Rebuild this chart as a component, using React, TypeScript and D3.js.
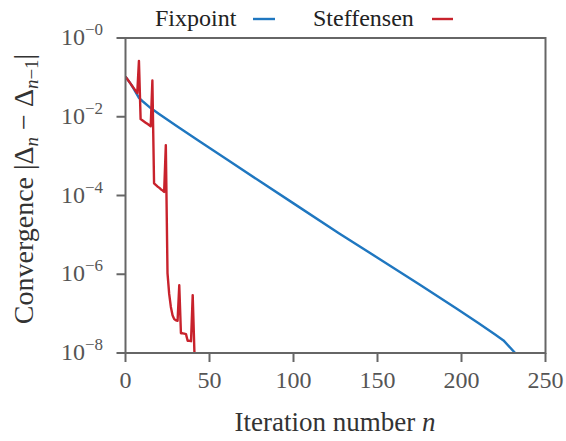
import React from "react";
import * as d3 from "d3";

const xTickValues = [0, 50, 100, 150, 200, 250];
const yTickExponents = [0, -2, -4, -6, -8];

const fixpointIterations = [0, 3, 5, 8, 10, 15, 20, 30, 44, 60, 80, 100, 127, 150, 175, 197, 210, 220, 225, 233];
const fixpointLog10 = [-0.98, -1.16, -1.3, -1.52, -1.6, -1.78, -1.93, -2.22, -2.62, -3.07, -3.64, -4.2, -4.96, -5.58, -6.26, -6.87, -7.24, -7.53, -7.68, -8.05];

const steffensenLog10 = [
  -0.98, -1.04, -1.1, -1.16, -1.22, -1.28, -1.34, -1.4, -0.58, -2.06,
  -2.09, -2.12, -2.15, -2.18, -2.21, -2.24, -1.08, -3.69, -3.73, -3.77,
  -3.8, -3.84, -3.87, -3.91, -2.72, -5.97, -6.5, -6.83, -7.04, -7.14,
  -7.17, -7.18, -6.28, -7.5, -7.5, -7.51, -7.52, -7.69, -7.69, -7.7,
  -6.53, -7.95, -8.4,
];

const BLUE = "#1f77c0";
const RED = "#c8222c";
const FRAME = "#666666";
const FONT = "Liberation Serif";

export default function App() {
  const W = 566, H = 441;
  const L = 125.5, R = 545.5, T = 38, B = 353;
  const x = d3.scaleLinear().domain([0, 250]).range([L, R]);
  const y = d3.scaleLog().domain([1e-8, 1]).range([B, T]);

  const fixData = fixpointIterations.map((it, i) => [it, Math.pow(10, fixpointLog10[i])] as [number, number]);
  const stData = steffensenLog10.map((v, i) => [i, Math.pow(10, v)] as [number, number]);
  const line = d3.line<[number, number]>().x(d => x(d[0])).y(d => y(d[1]));

  return (
    <svg width={W} height={H} style={{ position: "absolute", left: 0, top: 0, background: "#fff" }}>
      <defs>
        <clipPath id="plotclip">
          <rect x={L} y={T} width={R - L} height={B - T} />
        </clipPath>
      </defs>
      <g clipPath="url(#plotclip)" fill="none" strokeLinejoin="round">
        <path d={line(fixData) || ""} stroke={BLUE} strokeWidth={2.4} />
        <path d={line(stData) || ""} stroke={RED} strokeWidth={2.4} />
      </g>
      <rect x={L} y={T} width={R - L} height={B - T} fill="none" stroke={FRAME} strokeWidth={2} />
      {xTickValues.map(v => (
        <g key={"x" + v}>
          <line x1={x(v)} x2={x(v)} y1={B} y2={B + 9} stroke={FRAME} strokeWidth={2} />
          <text x={x(v)} y={B + 35} textAnchor="middle" fontFamily={FONT} fontSize={24} fill="#555">{v}</text>
        </g>
      ))}
      {yTickExponents.map(e => (
        <g key={"y" + e}>
          <line x1={L - 9} x2={L} y1={y(Math.pow(10, e))} y2={y(Math.pow(10, e))} stroke={FRAME} strokeWidth={2} />
          <text x={103} y={y(Math.pow(10, e)) + 7} textAnchor="end" fontFamily={FONT} fontSize={24} fill="#555">
            10<tspan fontSize={17} dy={-10}>{"\u2212" + Math.abs(e)}</tspan>
          </text>
        </g>
      ))}
      <text x={335} y={431} textAnchor="middle" fontFamily={FONT} fontSize={27} fill="#333">
        Iteration number <tspan fontStyle="italic">n</tspan>
      </text>
      <text transform={`translate(33, 189) rotate(-90)`} textAnchor="middle" fontFamily={FONT} fontSize={28} fill="#333">
        Convergence |Δ<tspan fontStyle="italic" fontSize={19} dy={5}>n</tspan>
        <tspan dy={-5}>{" \u2212 Δ"}</tspan>
        <tspan fontSize={19} dy={5}><tspan fontStyle="italic">n</tspan>{"\u22121"}</tspan>
        <tspan dy={-5}>|</tspan>
      </text>
      <g fontFamily={FONT} fontSize={24} fill="#222">
        <text x={155} y={26}>Fixpoint</text>
        <line x1={253} x2={275} y1={19} y2={19} stroke={BLUE} strokeWidth={2.4} />
        <text x={313} y={26}>Steffensen</text>
        <line x1={432} x2={453} y1={19} y2={19} stroke={RED} strokeWidth={2.4} />
      </g>
    </svg>
  );
}
